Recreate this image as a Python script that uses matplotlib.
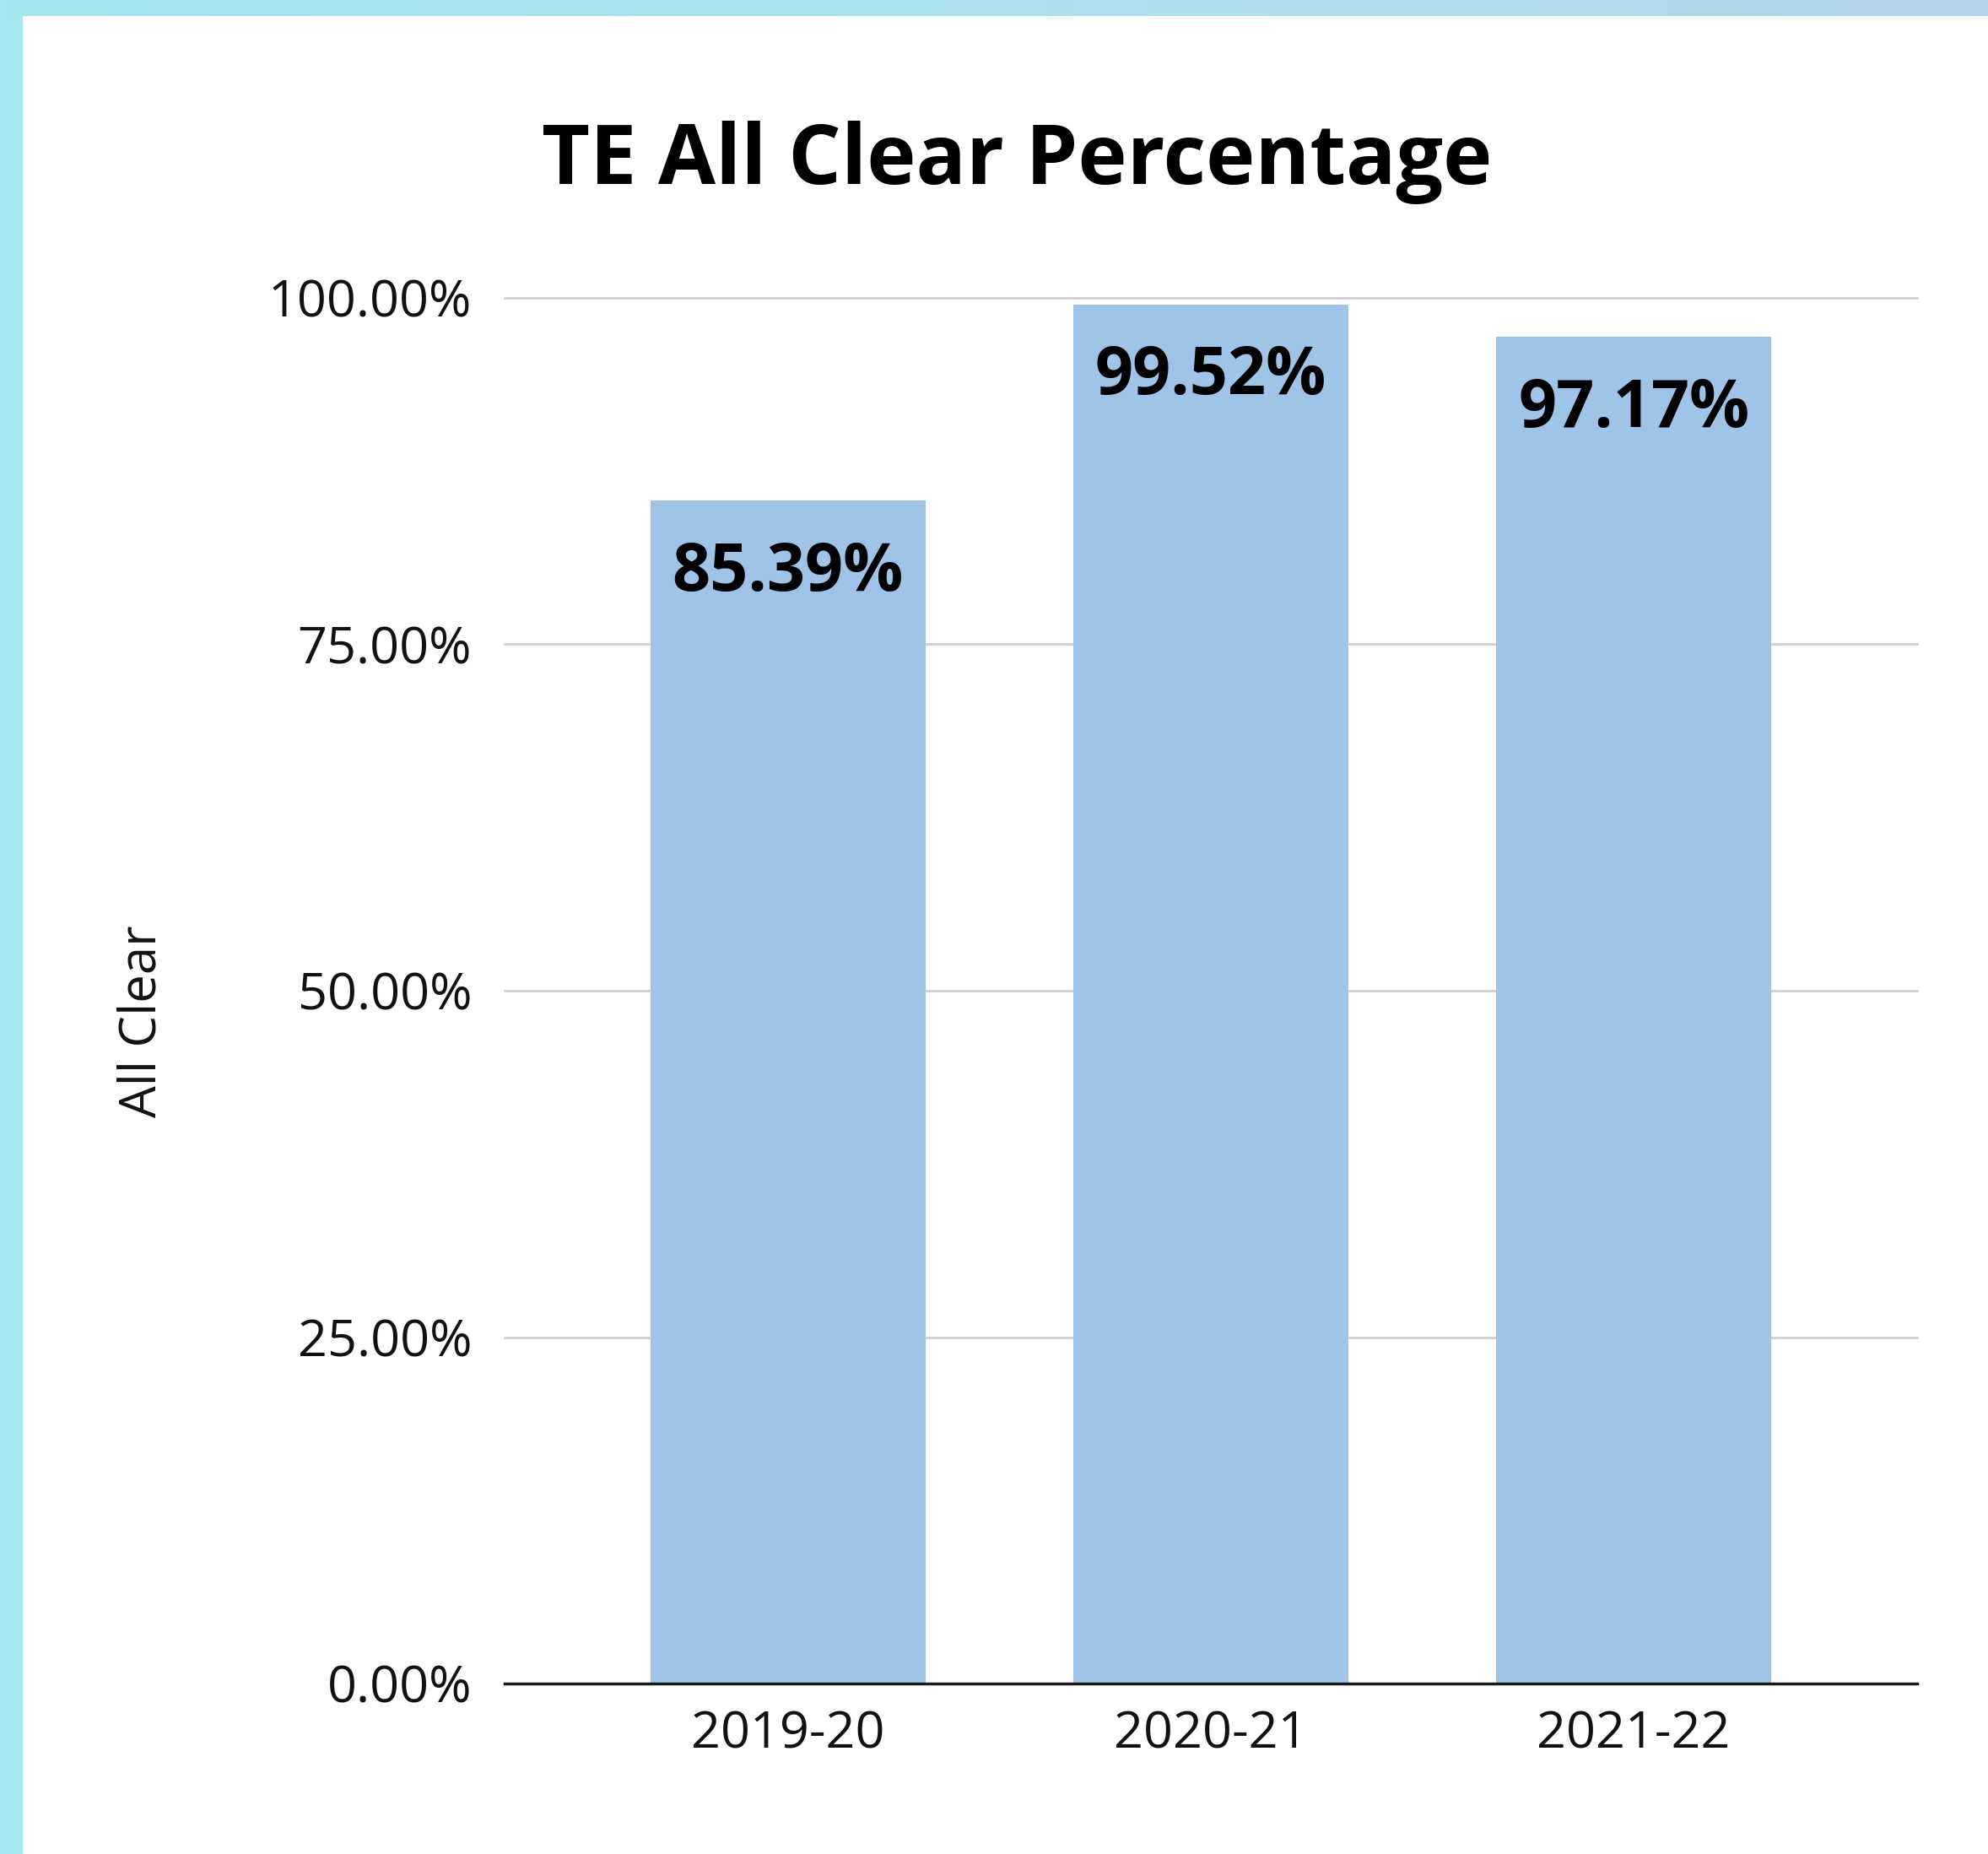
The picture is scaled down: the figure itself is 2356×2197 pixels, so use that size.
"""
Bar chart: TE All Clear Percentage by school year.
"""

import numpy as np
import matplotlib
matplotlib.use("Agg")
import matplotlib.pyplot as plt
from matplotlib.colors import LinearSegmentedColormap


# ============================================================
# DATA
# ============================================================

years = ["2019-20", "2020-21", "2021-22"]
all_clear = [85.39, 99.52, 97.17]
y_ticks = [0, 25, 50, 75, 100]

BAR_COLOR = "#A0C4E8"
GRID_COLOR = "#D0D0D0"

plt.rcParams["font.family"] = ["Open Sans", "DejaVu Sans"]


# ============================================================
# FIGURE + FRAME
# ============================================================

W, H = 2356, 2197
fig = plt.figure(figsize=(W / 100, H / 100), dpi=100)
fig.patch.set_facecolor("white")

# left border strip
left = fig.add_axes([0, 0, 27 / W, 1])
left.set_facecolor("#A6E8EE")
left.set_xticks([])
left.set_yticks([])
for s in left.spines.values():
    s.set_visible(False)

# top border strip with a teal -> light blue gradient
top = fig.add_axes([0, 1 - 19 / H, 1, 19 / H])
cmap = LinearSegmentedColormap.from_list("band", ["#A6E8EE", "#B3D5F0"])
top.imshow(np.linspace(0, 1, 256)[None, :], cmap=cmap, aspect="auto",
           extent=[0, 1, 0, 1])
top.set_axis_off()


# ============================================================
# BARS
# ============================================================

ax = fig.add_axes([598 / W, 1 - 1995 / H, (2272 - 598) / W, (1995 - 353) / H])
x = np.arange(len(years))

bars = ax.bar(x, all_clear, width=0.65, color=BAR_COLOR, zorder=2)

for rect, v in zip(bars, all_clear):
    ax.annotate(f"{v:.2f}%",
                xy=(rect.get_x() + rect.get_width() / 2, v),
                xytext=(0, -62), textcoords="offset points",
                ha="center", va="center",
                fontsize=57, fontweight="bold", color="black", zorder=3)

ax.set_xlim(-0.67, 2.67)
ax.set_ylim(0, 100)
ax.set_xticks(x)
ax.set_xticklabels(years, fontsize=44, color="#111111")
ax.set_yticks(y_ticks)
ax.set_yticklabels([f"{t:.2f}%" for t in y_ticks], fontsize=44,
                   color="#111111")
ax.tick_params(axis="both", length=0)
ax.tick_params(axis="y", pad=28)
ax.tick_params(axis="x", pad=22)

ax.grid(axis="y", color=GRID_COLOR, linewidth=2, zorder=0)
ax.grid(axis="x", visible=False)
for line in ax.get_ygridlines():
    line.set_clip_on(False)

for side in ["top", "right", "left"]:
    ax.spines[side].set_visible(False)
ax.spines["bottom"].set_color("#1a1a1a")
ax.spines["bottom"].set_linewidth(2.5)
ax.spines["bottom"].set_zorder(4)

fig.text(168 / W, 1 - 1210 / H, "All Clear", rotation=90,
         ha="center", va="center", fontsize=43, color="#111111")

fig.text(1205 / W, 1 - 218 / H, "TE All Clear Percentage",
         ha="center", va="baseline", fontsize=71, fontweight="bold",
         color="black")

plt.savefig("out.png", dpi=100)
